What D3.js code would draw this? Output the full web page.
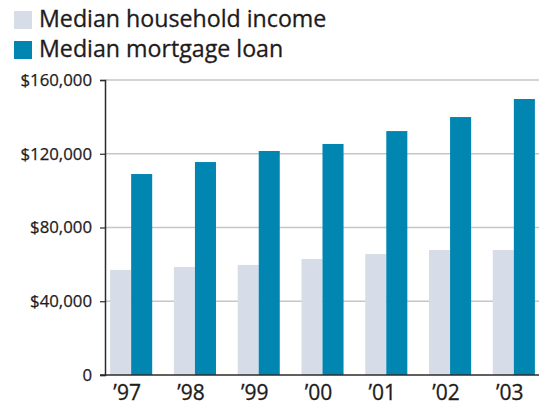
<!DOCTYPE html>
<html>
<head>
<meta charset="utf-8">
<script src="https://cdn.jsdelivr.net/npm/d3@7"></script>
<style>
    body { margin: 0; background: #fff; }
    svg { display: block; font-family: "Open Sans", "Noto Sans", sans-serif; }
</style>
</head>
<body>
<svg width="539" height="406"></svg>
<script>
const years = ["’97", "’98", "’99", "’00", "’01", "’02", "’03"];
const seriesNames = ["Median household income", "Median mortgage loan"];
const income = [57000, 58600, 59700, 62900, 65600, 67800, 67800];
const mortgage = [109000, 115500, 121500, 125300, 132300, 139900, 149700];
const yTicks = [0, 40000, 80000, 120000, 160000];
const colors = ["#d6dde9", "#0086b1"];

function drawChart() {
    const svg = d3.select("svg");
    const area = { left: 105, right: 540, top: 80, bottom: 375 };

    const scX = d3.scaleBand()
        .domain(years)
        .range([area.left, area.right])
        .paddingInner(0.34)
        .paddingOuter(0.08);
    const scSeries = d3.scaleBand()
        .domain(seriesNames)
        .range([0, scX.bandwidth()]);
    const scY = d3.scaleLinear()
        .domain([0, 160000])
        .range([area.bottom, area.top]);

    // grid lines
    svg.append("g")
        .selectAll("line")
        .data(yTicks.filter(d => d > 0))
        .enter()
        .append("line")
        .attr("x1", area.left)
        .attr("x2", 539)
        .attr("y1", d => scY(d))
        .attr("y2", d => scY(d))
        .attr("stroke", "#c6c6c6")
        .attr("stroke-width", 1.5);

    // bars
    const data = years.map((y, i) => ({ year: y, values: [income[i], mortgage[i]] }));
    const groups = svg.append("g")
        .selectAll("g")
        .data(data)
        .enter()
        .append("g")
        .attr("transform", d => `translate(${scX(d.year)},0)`);
    groups.selectAll("rect")
        .data(d => d.values.map((v, k) => ({ name: seriesNames[k], value: v, k: k })))
        .enter()
        .append("rect")
        .attr("x", d => scSeries(d.name))
        .attr("width", scSeries.bandwidth())
        .attr("y", d => scY(d.value))
        .attr("height", d => scY(0) - scY(d.value))
        .attr("fill", d => colors[d.k]);

    // y axis
    const axisY = d3.axisLeft(scY)
        .tickValues(yTicks)
        .tickSize(5)
        .tickPadding(8)
        .tickFormat(d => d === 0 ? "0" : "$" + d3.format(",")(d));
    const gY = svg.append("g")
        .attr("transform", `translate(${area.left},0)`)
        .call(axisY);
    gY.select(".domain").attr("stroke", "#2b2b2b").attr("stroke-width", 1.5);
    gY.selectAll(".tick line").attr("stroke", "#2b2b2b").attr("stroke-width", 1.2);
    gY.selectAll("text")
        .attr("font-size", 16.8)
        .attr("font-family", "'Open Sans', sans-serif")
        .attr("fill", "#1e1b1c")
        .attr("stroke", "#1e1b1c")
        .attr("stroke-width", 0.25);

    // x axis
    svg.append("line")
        .attr("x1", area.left - 5)
        .attr("x2", 539)
        .attr("y1", area.bottom)
        .attr("y2", area.bottom)
        .attr("stroke", "#2b2b2b")
        .attr("stroke-width", 1.5);
    svg.append("g")
        .selectAll("text")
        .data(years)
        .enter()
        .append("text")
        .attr("x", d => scX(d) + scX.bandwidth() / 2 - 4)
        .attr("y", 400)
        .attr("text-anchor", "middle")
        .attr("font-size", 21)
        .attr("fill", "#1e1b1c")
        .attr("stroke", "#1e1b1c")
        .attr("stroke-width", 0.3)
        .text(d => d);

    // legend
    const legend = svg.append("g")
        .selectAll("g")
        .data(seriesNames)
        .enter()
        .append("g")
        .attr("transform", (d, i) => `translate(14,${11 + i * 30})`);
    legend.append("rect")
        .attr("width", 18)
        .attr("height", 18)
        .attr("fill", (d, i) => colors[i]);
    legend.append("text")
        .attr("x", 25)
        .attr("y", 16)
        .attr("font-size", 23.2)
        .attr("fill", "#1e1b1c")
        .attr("stroke", "#1e1b1c")
        .attr("stroke-width", 0.3)
        .text(d => d);
}

drawChart();
</script>
</body>
</html>
